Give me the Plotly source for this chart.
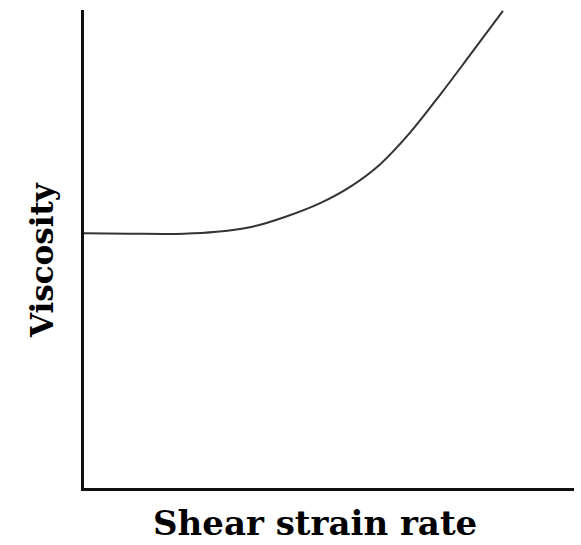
import plotly.graph_objects as go

# Curve (arbitrary units, axes have no ticks)
shear_rate = [0, 9.4, 20.4, 27.1, 34.1, 41.0, 48.2, 54.3, 60.4, 66.5, 72.7, 78.8, 85.5]
viscosity = [53.3, 53.2, 53.2, 53.6, 54.6, 56.7, 59.6, 63.0, 67.7, 74.3, 82.3, 90.6, 99.8]

x_title = "Shear strain rate"
y_title = "Viscosity"

fig = go.Figure()
fig.add_trace(go.Scatter(
    x=shear_rate, y=viscosity, mode="lines",
    line=dict(color="#333333", width=2, shape="spline", smoothing=1.0),
    hoverinfo="skip", showlegend=False,
))

W, H = 581, 545
L, R, T, B = 84, 7, 10, 57
pw, ph = W - L - R, H - T - B

def px(x):
    return (x - L) / pw

def py(y):
    return (H - B - y) / ph

fig.update_layout(
    width=W, height=H,
    margin=dict(l=L, r=R, t=T, b=B, pad=0),
    paper_bgcolor="white", plot_bgcolor="white",
    xaxis=dict(range=[0, 100], showgrid=False, zeroline=False, showticklabels=False,
               ticks="", showline=True, linecolor="#111111", linewidth=2.5),
    yaxis=dict(range=[0, 100], showgrid=False, zeroline=False, showticklabels=False,
               ticks="", showline=True, linecolor="#111111", linewidth=2.5),
    annotations=[
        dict(text=x_title, xref="paper", yref="paper", x=px(315), y=py(523),
             showarrow=False, xanchor="center", yanchor="middle",
             font=dict(family="DejaVu Serif", size=34, color="black", weight="bold")),
        dict(text=y_title, xref="paper", yref="paper", x=px(42), y=py(260),
             showarrow=False, xanchor="center", yanchor="middle", textangle=-90,
             font=dict(family="DejaVu Serif", size=31, color="black", weight="bold")),
    ],
)

fig.write_html(
    "out.html",
    config={"displayModeBar": False},
    post_script="document.body.style.margin='0';document.body.style.overflow='hidden';",
)
